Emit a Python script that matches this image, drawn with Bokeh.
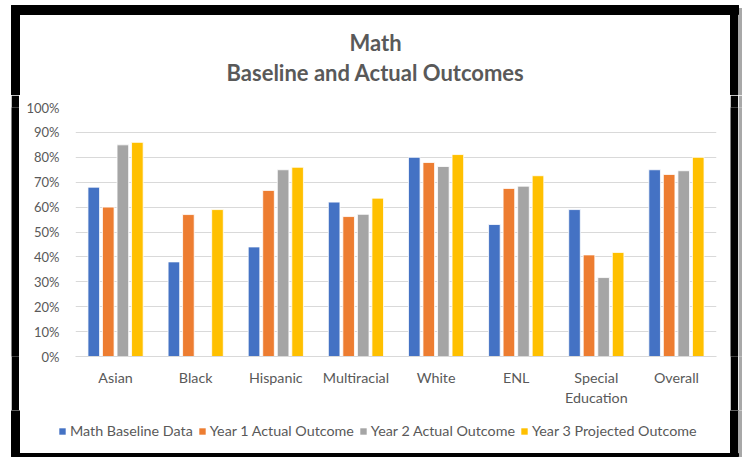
from bokeh.plotting import figure
from bokeh.models import (FactorRange, ColumnDataSource, NumeralTickFormatter, Label,
                          Legend, LegendItem, SingleIntervalTicker, Range1d)
from bokeh.layouts import column, row
from bokeh.transform import dodge
from bokeh.embed import file_html
from bokeh.resources import INLINE

categories = ["Asian", "Black", "Hispanic", "Multiracial", "White", "ENL",
              "Special\nEducation", "Overall"]
baseline = [0.68, 0.38, 0.44, 0.62, 0.80, 0.53, 0.59, 0.75]
year1 = [0.60, 0.57, 0.667, 0.562, 0.779, 0.675, 0.408, 0.731]
year2 = [0.85, 0.0, 0.75, 0.571, 0.763, 0.684, 0.317, 0.746]
year3 = [0.86, 0.59, 0.76, 0.636, 0.811, 0.726, 0.418, 0.80]
series_names = ["Math Baseline Data", "Year 1 Actual Outcome",
                "Year 2 Actual Outcome", "Year 3 Projected Outcome"]
colors = ["#4472C4", "#ED7D31", "#A5A5A5", "#FFC000"]
title_lines = ["Math", "Baseline and Actual Outcomes"]

FONT = "Lato"
TXT = "#595959"
SHADOW = "#a8a8a8"
W, H = 742, 457
TOP_H, MID_H = 95, 315
BOT_H = H - TOP_H - MID_H


def deco_fig(width, height, y0, y1, x0=0, fill="white"):
    f = figure(width=width, height=height, x_range=Range1d(x0, x0 + width),
               y_range=Range1d(y1, y0), output_backend="svg", toolbar_location=None,
               x_axis_location=None, y_axis_location=None, min_border=0)
    f.outline_line_color = None
    f.border_fill_color = fill
    f.background_fill_color = fill
    for g in f.grid:
        g.visible = False
    return f


def frame_bars(f, y0, y1):
    # black chart border and its soft shadow on the right
    f.quad(left=11, right=19, top=max(y0, 5), bottom=min(y1, 456), color="black")
    f.quad(left=730, right=738, top=max(y0, 5), bottom=min(y1, 456), color="black")
    f.quad(left=738, right=742, top=max(y0, 8), bottom=y1, color=SHADOW)


# ---- top: title area ----
top = deco_fig(W, TOP_H, 0, TOP_H)
frame_bars(top, 0, TOP_H)
top.quad(left=11, right=738, top=5, bottom=14, color="black")
for txt, yy in zip(title_lines, [42, 72]):
    top.add_layout(Label(x=375, y=yy, text=txt, text_align="center", text_baseline="middle",
                         text_font=FONT, text_font_style="bold", text_font_size="22px",
                         text_color=TXT))

# ---- middle: the chart itself ----
src = ColumnDataSource(dict(cat=categories, b=baseline, y1=year1, y2=year2, y3=year3))
p = figure(x_range=FactorRange(*categories), y_range=(0, 1),
           width=711, height=MID_H, output_backend="svg", toolbar_location=None,
           min_border_left=56, min_border_right=14, min_border_top=12, min_border_bottom=54)
p.outline_line_color = None
p.background_fill_color = "white"
p.border_fill_color = "white"

offsets = [-0.272, -0.091, 0.091, 0.272]
fields = ["b", "y1", "y2", "y3"]
for f_, off, c in zip(fields, offsets, colors):
    p.vbar(x=dodge("cat", off, range=p.x_range), top=f_, width=0.145, source=src,
           fill_color=c, line_color="white", line_width=0.8)

p.xgrid.grid_line_color = None
p.ygrid.grid_line_color = "#D9D9D9"
p.ygrid.grid_line_width = 1
p.yaxis.ticker = SingleIntervalTicker(interval=0.1)
p.yaxis.formatter = NumeralTickFormatter(format="0%")
p.yaxis.axis_line_color = None
p.yaxis.major_tick_line_color = None
p.yaxis.minor_tick_line_color = None
p.yaxis.major_label_standoff = 10
p.xaxis.axis_line_color = "#D9D9D9"
p.xaxis.major_tick_line_color = None
p.xaxis.major_label_standoff = 6
for ax in (p.xaxis[0], p.yaxis[0]):
    ax.major_label_text_font = FONT
    ax.major_label_text_color = TXT
p.yaxis.major_label_text_font_size = "13px"
p.xaxis.major_label_text_font_size = "14.3px"

# uniform side strips of the chart border (white margin, black bar, shadow)
strips = [deco_fig(11, MID_H, TOP_H, TOP_H + MID_H, fill="white"),
          deco_fig(8, MID_H, TOP_H, TOP_H + MID_H, fill="black")]
strips_r = [deco_fig(8, MID_H, TOP_H, TOP_H + MID_H, fill="black"),
            deco_fig(4, MID_H, TOP_H, TOP_H + MID_H, fill=SHADOW)]

# ---- bottom: legend area ----
bot = deco_fig(W, BOT_H, TOP_H + MID_H, H)
frame_bars(bot, TOP_H + MID_H, H)
bot.quad(left=11, right=738, top=453, bottom=456, color="black")
keys = []
for c in colors:
    # zero-size placeholder so the legend has a glyph to draw
    keys.append(bot.vbar(x=[0], top=[0], bottom=[0], width=0, fill_color=c, line_color=None))
legend = Legend(items=[LegendItem(label=n, renderers=[r]) for n, r in zip(series_names, keys)],
                orientation="horizontal", location=(58, 18),
                glyph_width=8, glyph_height=8, label_standoff=4, spacing=5,
                padding=0, margin=0, border_line_color=None, background_fill_alpha=0,
                label_text_font=FONT, label_text_font_size="14.3px", label_text_color=TXT)
bot.add_layout(legend, "center")

layout = column(top, row(*strips, p, *strips_r), bot)
open("out.html", "w").write(file_html(layout, INLINE))
